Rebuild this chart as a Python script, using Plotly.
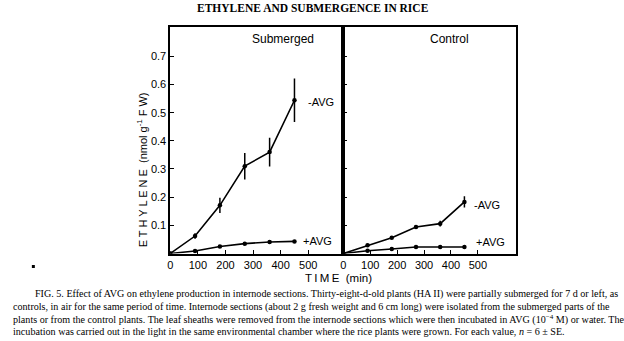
import plotly.graph_objects as go

# ---------------- data ----------------
time_min = [0, 90, 180, 270, 360, 450]
time_ticks = [0, 100, 200, 300, 400, 500]
y_ticks = [0.1, 0.2, 0.3, 0.4, 0.5, 0.6, 0.7]
y_tick_labels = ["0.1", "0.2", "0.3", "0.4", "0.5", "0.6", "0.7"]

sub_minus_avg = [0.0, 0.062, 0.171, 0.31, 0.36, 0.544]
sub_minus_err = [0.0, 0.010, 0.027, 0.047, 0.051, 0.077]
sub_plus_avg = [0.0, 0.009, 0.025, 0.035, 0.041, 0.043]
sub_plus_err = [0.0, 0.002, 0.003, 0.003, 0.003, 0.003]

ctl_minus_avg = [0.0, 0.029, 0.056, 0.094, 0.106, 0.183]
ctl_minus_err = [0.0, 0.003, 0.003, 0.004, 0.010, 0.020]
ctl_plus_avg = [0.0, 0.010, 0.016, 0.023, 0.023, 0.023]
ctl_plus_err = [0.0, 0.002, 0.002, 0.002, 0.002, 0.002]

panel_titles = ["Submerged", "Control"]
series_labels = ["-AVG", "+AVG"]

title_text = "ETHYLENE AND SUBMERGENCE IN RICE"
caption_lines = [
    "FIG. 5. Effect of AVG on ethylene production in internode sections. Thirty-eight-d-old plants (HA II) were partially submerged for 7 d or left, as",
    "controls, in air for the same period of time. Internode sections (about 2 g fresh weight and 6 cm long) were isolated from the submerged parts of the",
    "plants or from the control plants. The leaf sheaths were removed from the internode sections which were then incubated in AVG (10<sup>\u22124</sup> M) or water. The",
    "incubation was carried out in the light in the same environmental chamber where the rice plants were grown. For each value, <i>n</i> = 6 \u00b1 SE.",
]

# ---------------- figure ----------------
W, H = 624, 341
def px_x(p):
    return p / W
def px_y(p):
    return 1 - p / H

SANS = "Liberation Sans, Arial, sans-serif"
SERIF = "Liberation Serif, Times New Roman, serif"

fig = go.Figure()

def add_series(xaxis, yaxis, y, err):
    fig.add_trace(go.Scatter(
        x=time_min, y=y, mode="lines+markers",
        line=dict(color="black", width=1.6),
        marker=dict(color="black", size=4.5),
        error_y=dict(type="data", array=err, visible=True, color="black",
                     thickness=1.5, width=0),
        xaxis=xaxis, yaxis=yaxis, showlegend=False, hoverinfo="skip",
    ))

add_series("x", "y", sub_minus_avg, sub_minus_err)
add_series("x", "y", sub_plus_avg, sub_plus_err)
add_series("x2", "y2", ctl_minus_avg, ctl_minus_err)
add_series("x2", "y2", ctl_plus_avg, ctl_plus_err)

x_left = [168, 342]
x_right = [342, 515]
y_top, y_bot = 27, 253.5
ymax = (y_bot - y_top) / 281.7

axis_common = dict(
    showline=True, linecolor="black", linewidth=1.6, mirror=True,
    ticks="inside", ticklen=4, tickwidth=1.4, tickcolor="black",
    showgrid=False, zeroline=False,
    tickfont=dict(family=SANS, size=11, color="black"),
)

fig.update_layout(
    width=W, height=H,
    margin=dict(l=0, r=0, t=0, b=0),
    paper_bgcolor="white", plot_bgcolor="white",
    xaxis=dict(domain=[px_x(x_left[0]), px_x(x_left[1])], range=[0, 627],
               tickvals=time_ticks, ticktext=[str(t) for t in time_ticks],
               anchor="y", **axis_common),
    xaxis2=dict(domain=[px_x(x_right[0]), px_x(x_right[1])], range=[0, 640],
                tickvals=time_ticks, ticktext=[str(t) for t in time_ticks],
                anchor="y2", **axis_common),
    yaxis=dict(domain=[px_y(y_bot), px_y(y_top)], range=[0, ymax],
               tickvals=y_ticks, ticktext=y_tick_labels, anchor="x",
               **axis_common),
    yaxis2=dict(domain=[px_y(y_bot), px_y(y_top)], range=[0, ymax],
                tickvals=y_ticks, showticklabels=False, anchor="x2",
                **axis_common),
)

ann = []
# title
ann.append(dict(text="<b>" + title_text + "</b>", x=px_x(311), y=px_y(8),
                xref="paper", yref="paper", showarrow=False,
                font=dict(family=SERIF, size=11.5, color="black"),
                xanchor="center", yanchor="middle"))
# panel titles
ann.append(dict(text=panel_titles[0], x=px_x(281), y=px_y(39), xref="paper", yref="paper",
                showarrow=False, font=dict(family=SANS, size=12, color="black"),
                xanchor="center", yanchor="middle"))
ann.append(dict(text=panel_titles[1], x=px_x(449), y=px_y(39), xref="paper", yref="paper",
                showarrow=False, font=dict(family=SANS, size=12, color="black"),
                xanchor="center", yanchor="middle"))
# series labels
lab_font = dict(family=SANS, size=11, color="black")
ann.append(dict(text=series_labels[0], x=time_min[-1], y=sub_minus_avg[-1], xref="x", yref="y",
                showarrow=False, font=lab_font, xanchor="left", yanchor="middle", xshift=12, yshift=-2))
ann.append(dict(text=series_labels[1], x=time_min[-1], y=sub_plus_avg[-1], xref="x", yref="y",
                showarrow=False, font=lab_font, xanchor="left", yanchor="middle", xshift=7, yshift=0))
ann.append(dict(text=series_labels[0], x=time_min[-1], y=ctl_minus_avg[-1], xref="x2", yref="y2",
                showarrow=False, font=lab_font, xanchor="left", yanchor="middle", xshift=8, yshift=-3))
ann.append(dict(text=series_labels[1], x=time_min[-1], y=ctl_plus_avg[-1], xref="x2", yref="y2",
                showarrow=False, font=lab_font, xanchor="left", yanchor="middle", xshift=10, yshift=5))
# axis titles
ann.append(dict(text="E T H Y L E N E  (nmol g<sup>-1</sup> F W)", x=px_x(140), y=px_y(170),
                xref="paper", yref="paper", showarrow=False, textangle=-90,
                font=dict(family=SANS, size=11, color="black"),
                xanchor="center", yanchor="middle"))
ann.append(dict(text="T\u2009I\u2009M\u2009E  (min)", x=px_x(337), y=px_y(278),
                xref="paper", yref="paper", showarrow=False,
                font=dict(family=SANS, size=11.5, color="black"),
                xanchor="center", yanchor="middle"))
# caption
cap_y = [294, 306.5, 319, 331.5]
cap_x = [30, 8, 8, 8]
for line, cy, cx in zip(caption_lines, cap_y, cap_x):
    ann.append(dict(text=line, x=px_x(cx), y=px_y(cy), xref="paper", yref="paper",
                    showarrow=False, font=dict(family=SERIF, size=10.1, color="black"),
                    xanchor="left", yanchor="middle", align="left"))
fig.update_layout(annotations=ann)

# stray print dot
fig.add_shape(type="rect", xref="paper", yref="paper",
              x0=px_x(29), x1=px_x(32), y0=px_y(268), y1=px_y(265),
              fillcolor="black", line=dict(width=0))

fig.write_html("out.html")
